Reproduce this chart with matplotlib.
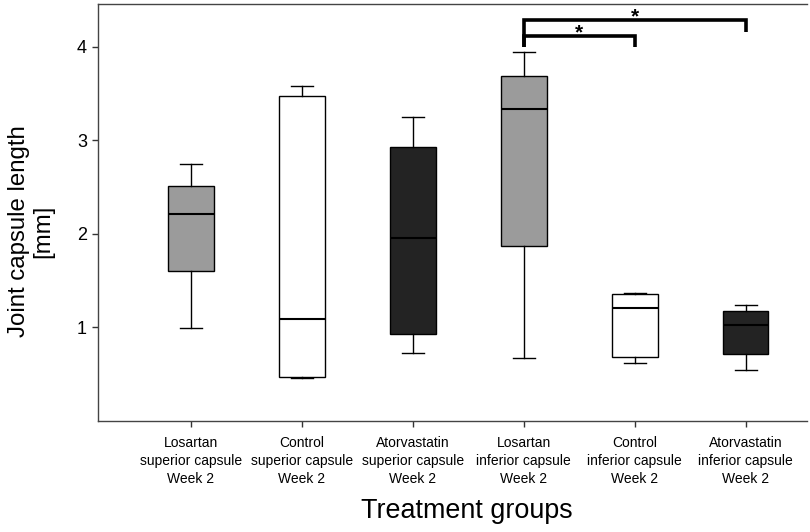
import matplotlib
matplotlib.use('Agg')
import matplotlib.pyplot as plt

# ---------------- data ----------------
groups = [
    "Losartan\nsuperior capsule\nWeek 2",
    "Control\nsuperior capsule\nWeek 2",
    "Atorvastatin\nsuperior capsule\nWeek 2",
    "Losartan\ninferior capsule\nWeek 2",
    "Control\ninferior capsule\nWeek 2",
    "Atorvastatin\ninferior capsule\nWeek 2",
]
whislo = [0.99, 0.46, 0.73, 0.67, 0.62, 0.54]
q1     = [1.60, 0.47, 0.93, 1.87, 0.68, 0.72]
med    = [2.21, 1.09, 1.96, 3.33, 1.21, 1.03]
q3     = [2.51, 3.47, 2.93, 3.69, 1.36, 1.17]
whishi = [2.74, 3.58, 3.25, 3.94, 1.37, 1.24]
fills  = ['#9b9b9b', '#ffffff', '#232323', '#9b9b9b', '#ffffff', '#232323']

yticks = [1, 2, 3, 4]

# significance brackets (group index pairs, 1-based)
sig_pairs   = [(4, 5), (4, 6)]
sig_top     = [4.11, 4.28]
sig_leg_end = [4.00, 4.15]
sig_labels  = ['*', '*']

# ---------------- plot ----------------
plt.rcParams['font.family'] = ['Liberation Sans', 'DejaVu Sans']

fig = plt.figure(figsize=(8.1, 5.32), dpi=100)
ax = fig.add_axes([0.121, 0.2086, 0.875, 0.784])

positions = list(range(1, len(groups) + 1))
stats = []
for i in range(len(groups)):
    stats.append(dict(med=med[i], q1=q1[i], q3=q3[i],
                      whislo=whislo[i], whishi=whishi[i], fliers=[]))

bp = ax.bxp(stats, positions=positions, widths=0.41, patch_artist=True,
            showfliers=False, capwidths=0.2,
            boxprops=dict(edgecolor='black', linewidth=1.0),
            medianprops=dict(color='black', linewidth=1.5),
            whiskerprops=dict(color='black', linewidth=1.0),
            capprops=dict(color='black', linewidth=1.0))
for patch, c in zip(bp['boxes'], fills):
    patch.set_facecolor(c)

for (a, b), top, leg, lab in zip(sig_pairs, sig_top, sig_leg_end, sig_labels):
    ax.plot([a, a, b, b], [sig_leg_end[0], top, top, leg], color='black',
            linewidth=2.6, solid_joinstyle='miter', solid_capstyle='butt')
    ax.text((a + b) / 2, top - 0.022, lab, ha='center', va='baseline',
            fontsize=15, fontweight='bold')

ax.set_xlim(0.162, 6.55)
ax.set_ylim(0, 4.455)
ax.set_yticks(yticks)
ax.set_yticklabels([str(t) for t in yticks], fontsize=13)
ax.set_xticks(positions)
ax.set_xticklabels(groups, fontsize=10, linespacing=1.36)
ax.tick_params(axis='both', direction='out', length=4, width=1, color='#333333')
ax.tick_params(axis='x', pad=7)
ax.tick_params(axis='y', pad=4)

for s in ['left', 'bottom', 'top']:
    ax.spines[s].set_color('#444444')
    ax.spines[s].set_linewidth(1.0)
ax.spines['right'].set_visible(False)

ax.set_ylabel("Joint capsule length\n[mm]", fontsize=17.3, linespacing=1.1)
ax.yaxis.set_label_coords(-0.062, 0.456)
ax.set_xlabel("Treatment groups", fontsize=19.4)
ax.xaxis.set_label_coords(0.521, -0.185)

fig.savefig('out.png', dpi=100)
